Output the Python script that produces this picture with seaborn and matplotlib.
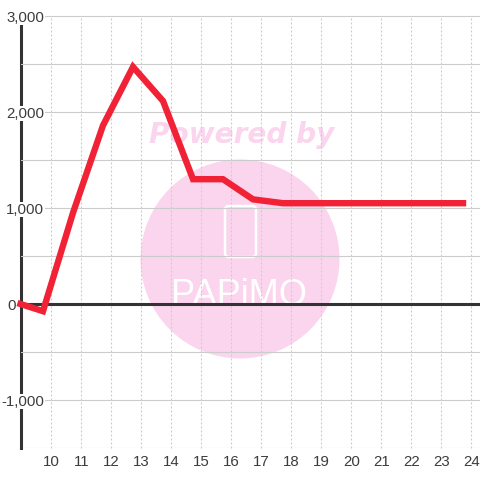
#!/usr/bin/python3

import matplotlib
matplotlib.use('Agg')
import seaborn as sns
import matplotlib.pyplot as plt
from matplotlib.patches import Circle, FancyBboxPatch
from matplotlib.ticker import FuncFormatter, MultipleLocator
from matplotlib.transforms import ScaledTranslation

hours = [9.0, 9.75, 10.75, 11.75, 12.75, 13.75, 14.75, 15.75, 16.75, 17.75,
         18.75, 19.75, 20.75, 21.75, 22.75, 23.75]
values = [0, -75, 950, 1860, 2470, 2115, 1300, 1300, 1090, 1050,
          1050, 1050, 1050, 1050, 1050, 1050]
x_ticks = list(range(10, 25))

RED = '#F12236'
DARK = '#333333'
GRID = '#CCCCCC'
PINK = '#FBD5EE'
W = 480.0


def main():
    sns.set_theme(style='white')
    plt.rcParams['font.family'] = ['Liberation Sans', 'DejaVu Sans']

    fig = plt.figure(figsize=(4.8, 4.8), dpi=100, facecolor='white')
    ax = fig.add_axes([20.5 / W, 32 / W, (W - 20.5) / W, 432 / W])

    # watermark, sits under the grid
    ax.add_patch(Circle((240 / W, 1 - 259 / W), 99.5 / W, transform=fig.transFigure,
                        facecolor=PINK, edgecolor='none', zorder=0, clip_on=False))
    ax.add_patch(FancyBboxPatch((225 / W, 1 - 257 / W), 31 / W, 51 / W,
                                boxstyle='round,pad=0,rounding_size=0.008',
                                transform=fig.transFigure, facecolor='none',
                                edgecolor='white', linewidth=1.8, zorder=0.1))
    ax.text(241.5 / W, 1 - 135 / W, 'Powered by', transform=fig.transFigure,
            family='DejaVu Sans', weight='bold', style='italic', fontsize=20.2, color=PINK,
            ha='center', va='center', zorder=0)
    ax.text(239 / W, 1 - 305 / W, 'PAPiMO', transform=fig.transFigure, family='Liberation Sans',
            fontsize=26, color='white', ha='center', va='baseline', zorder=0.1)

    ax.axhline(0, color=DARK, linewidth=2.2, zorder=4)
    sns.lineplot(x=hours, y=values, color=RED, linewidth=4.6, estimator=None, ax=ax, zorder=5)
    line = ax.lines[-1]
    line.set_solid_capstyle('projecting')
    line.set_solid_joinstyle('miter')
    line.set_clip_on(False)

    ax.set_xlim(9, 9 + (W - 20.5) / 30)
    ax.set_ylim(-1500, 3000)
    ax.set_xticks(x_ticks)
    ax.yaxis.set_major_locator(MultipleLocator(1000))
    ax.yaxis.set_minor_locator(MultipleLocator(500))
    ax.yaxis.set_major_formatter(FuncFormatter(lambda v, p: f'{v:,.0f}'))

    ax.set_axisbelow(False)
    ax.grid(True, axis='x', color=GRID, linewidth=0.8, linestyle=(0, (1.8, 1.8)))
    ax.grid(True, axis='y', which='both', color=GRID, linewidth=0.8)
    ax.tick_params(axis='x', length=0, pad=5, labelsize=10.8, labelcolor='#3c3c3c')
    ax.tick_params(axis='y', which='both', length=0, pad=-17, labelsize=10.8, labelcolor='#3c3c3c')

    fig.canvas.draw()
    for tick in ax.yaxis.get_major_ticks():
        tick.label1.set_bbox(dict(facecolor='white', edgecolor='none', pad=0.3))
        if tick.get_loc() == 0:
            tick.set_pad(3)
            tick.label1.set_bbox(None)
    # x labels sit one pixel right of where matplotlib centres them
    for label in ax.get_xticklabels():
        label.set_transform(label.get_transform() + ScaledTranslation(1 / 100, 0, fig.dpi_scale_trans))

    for side in ['top', 'right', 'bottom']:
        ax.spines[side].set_visible(False)
    ax.spines['left'].set_color(DARK)
    ax.spines['left'].set_linewidth(2.2)

    for gl in ax.get_xgridlines() + ax.get_ygridlines():
        gl.set_clip_on(False)

    fig.savefig('out.png', dpi=100)


if __name__ == '__main__':
    main()
